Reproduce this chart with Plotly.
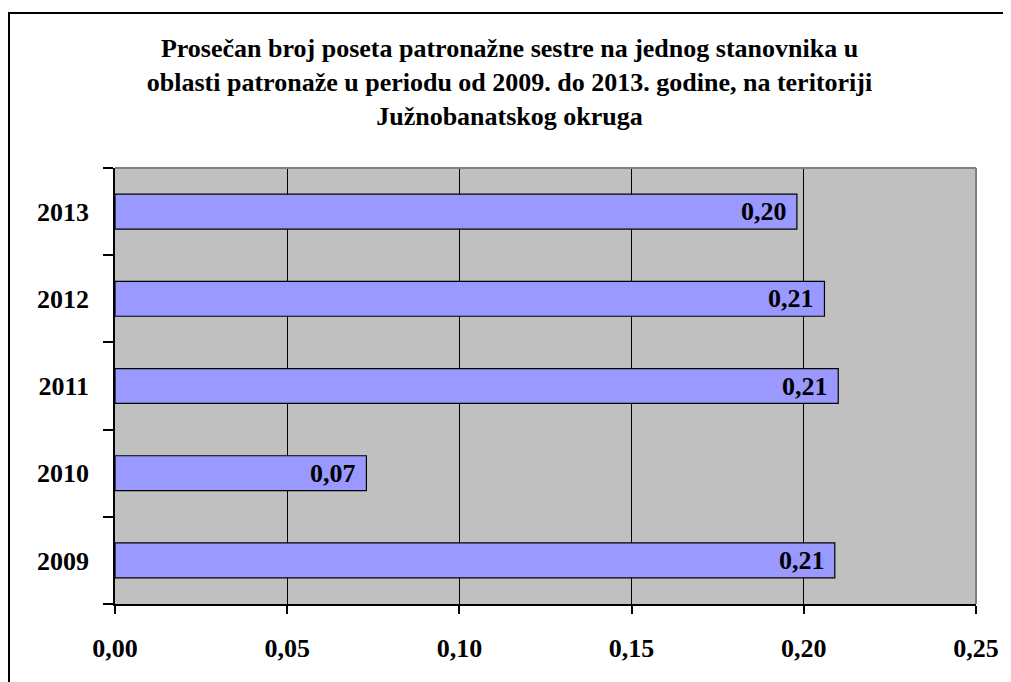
import plotly.graph_objects as go

years = ["2009", "2010", "2011", "2012", "2013"]
values = [0.209, 0.073, 0.210, 0.206, 0.198]
labels = [f"{v:.2f}".replace(".", ",") for v in values]
x_ticks = [0.0, 0.05, 0.10, 0.15, 0.20, 0.25]

title_text = ("Prosečan broj poseta patronažne sestre na jednog stanovnika u<br>"
              "oblasti patronaže u periodu od 2009. do 2013. godine, na teritoriji<br>"
              "Južnobanatskog okruga")

FONT = "Liberation Serif"

fig = go.Figure(go.Bar(
    y=years, x=values, orientation="h",
    marker=dict(color="#9999FF", line=dict(color="black", width=1.2)),
    width=0.4,
))

for i, (v, t) in enumerate(zip(values, labels)):
    fig.add_annotation(x=v, y=i, xref="x", yref="y", text=t, showarrow=False,
                       xanchor="right", xshift=-8,
                       font=dict(family=FONT, size=26, color="black", weight="bold"))

# page has 8px body margin: figure origin sits at (8, 8) in the window
W, H = 1003, 674
L, R, T, B = 107, 35, 160, 78
pw, ph = W - L - R, H - T - B

fig.add_shape(type="rect", xref="paper", yref="paper",
              x0=(1 - L) / pw, x1=1.2, y0=-0.5, y1=(H - B - 5) / ph,
              line=dict(color="black", width=2), layer="above")
fig.add_shape(type="line", xref="paper", yref="paper", x0=0, x1=1, y0=1, y1=1,
              line=dict(color="#808080", width=2))
fig.add_shape(type="line", xref="paper", yref="paper", x0=1, x1=1, y0=0, y1=1,
              line=dict(color="#808080", width=2))

fig.update_layout(
    width=W, height=H,
    margin=dict(l=L, r=R, t=T, b=B),
    paper_bgcolor="white", plot_bgcolor="#C0C0C0",
    separators=",.",
    showlegend=False,
    title=dict(text=title_text, x=501.5 / W, xanchor="center", y=1 - 49 / H, yanchor="top",
               font=dict(family=FONT, size=26, color="black", weight="bold")),
    xaxis=dict(range=[0, 0.25], tickvals=x_ticks, tickformat=".2f",
               showgrid=True, gridcolor="black", gridwidth=1, zeroline=False,
               showline=True, linecolor="black", linewidth=1.5,
               ticks="outside", ticklen=8, tickcolor="black", tickwidth=1.5,
               ticklabelstandoff=12,
               tickfont=dict(family=FONT, size=26, color="black", weight="bold")),
    yaxis=dict(type="category", categoryorder="array", categoryarray=years,
               range=[-0.5, 4.5],
               showgrid=False, zeroline=False,
               showline=True, linecolor="black", linewidth=1.5,
               ticks="outside", ticklen=10, tickcolor="black", tickwidth=1.5,
               tickson="boundaries", ticklabelstandoff=19,
               tickfont=dict(family=FONT, size=26, color="black", weight="bold")),
)

fig.write_html("out.html")
